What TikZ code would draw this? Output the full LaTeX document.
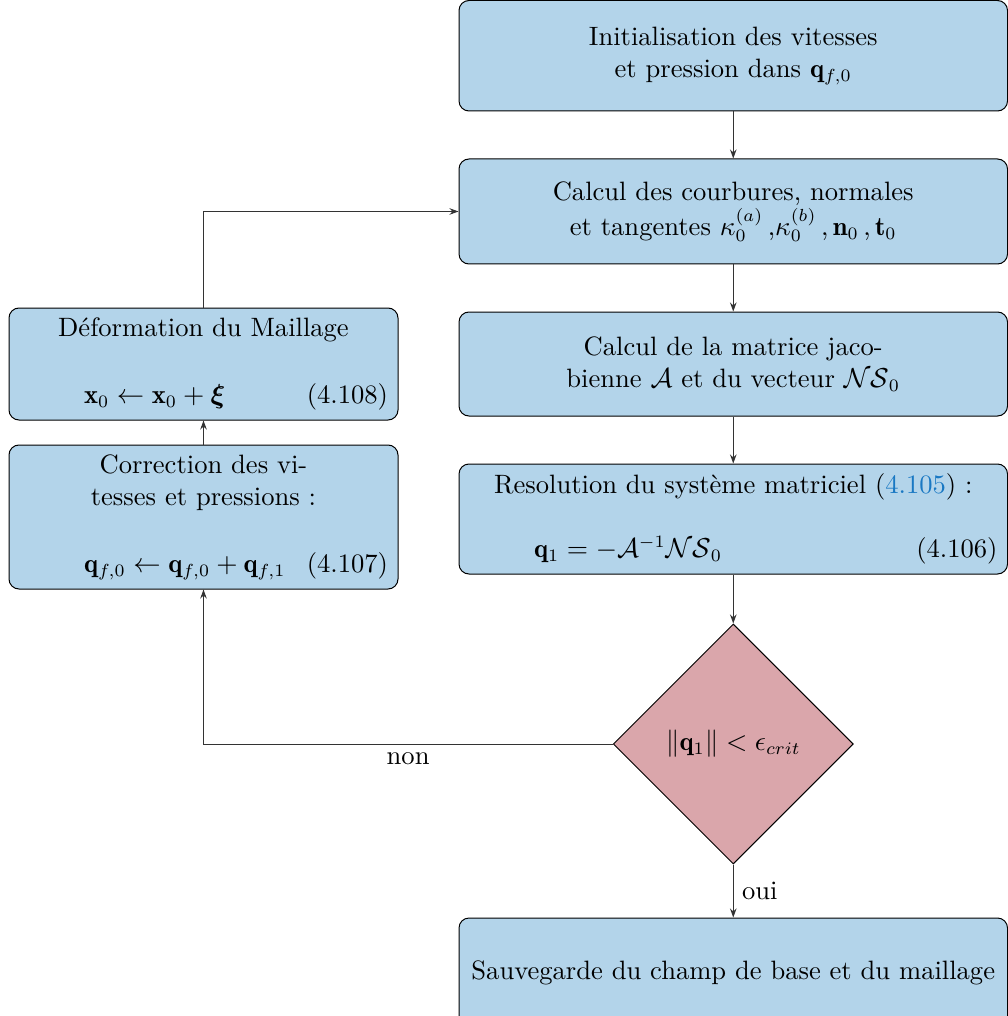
\documentclass[tikz,border=0pt]{standalone}
\usepackage{amsmath,amssymb}
\usepackage{fontspec}
\usepackage{tikz}
\usetikzlibrary{positioning,arrows.meta,shapes.geometric,calc}
\definecolor{boxblue}{RGB}{179,212,234}
\definecolor{testred}{RGB}{218,166,171}
\definecolor{refblue}{RGB}{25,120,195}
\newcommand{\eqline}[2]{\makebox[\hsize][l]{\hspace{26pt}$#1$\hfill(#2)}}
\tikzset{
  stepbox/.style={rectangle,rounded corners=4pt,draw=black,fill=boxblue,align=center,inner xsep=4pt,inner ysep=3pt},
  widebox/.style={stepbox,text width=211.4pt},
  sidebox/.style={stepbox,text width=147.6pt},
  testbox/.style={diamond,draw=black,fill=testred,aspect=1,minimum width=96pt,minimum height=96pt,inner sep=0pt},
  edge/.style={-{Stealth[length=3.6pt,width=2.6pt]},draw=black!80}
}
\begin{document}
\begin{tikzpicture}[node distance=18.8pt,font=\fontsize{10.63pt}{12.8pt}\selectfont]
  \useasboundingbox (0,0) rectangle (403.2pt,-406.4pt);
  % right column
  \node[widebox,minimum height=44.2pt] (init) at (293.3pt,-22.3pt) {Initialisation des vitesses\\et pression dans $\mathbf{q}_{f,0}$};
  \node[widebox,minimum height=42pt,below=of init] (courb) {Calcul des courbures, normales\\et tangentes $\kappa_0^{(a)}$\,,$\kappa_0^{(b)}$\,,\,$\mathbf{n}_0$\,,\,$\mathbf{t}_0$};
  \node[widebox,minimum height=41.6pt,below=of courb] (jac) {Calcul de la matrice jaco-\\bienne $\mathcal{A}$ et du vecteur $\mathcal{NS}_0$};
  \node[widebox,minimum height=44pt,below=of jac] (resol) {Resolution du système matriciel ({\color{refblue}4.105}) :\\[12.6pt]\eqline{\mathbf{q}_1=-\mathcal{A}^{-1}\mathcal{NS}_0}{4.106}};
  \node[testbox,below=19.6pt of resol] (test) {$\|\mathbf{q}_1\|<\epsilon_{crit}$};
  \node[widebox,minimum height=44pt,below=21.2pt of test] (save) {Sauvegarde du champ de base et du maillage};
  % left column
  \node[sidebox,minimum height=44.8pt,left=24pt of jac] (deform) {Déformation du Maillage\\[14pt]\eqline{\mathbf{x}_0\leftarrow\mathbf{x}_0+\boldsymbol{\xi}}{4.108}};
  \node[sidebox,minimum height=57.6pt,below=9.6pt of deform] (corr) {Correction des vi-\\tesses et pressions :\\[14pt]\eqline{\mathbf{q}_{f,0}\leftarrow\mathbf{q}_{f,0}+\mathbf{q}_{f,1}}{4.107}};
  % connectors
  \draw[edge] (init) -- (courb);
  \draw[edge] (courb) -- (jac);
  \draw[edge] (jac) -- (resol);
  \draw[edge] (resol) -- (test);
  \draw[edge] (test) -- node[right] {oui} (save);
  \draw[edge] (test.west) -| node[below,pos=0.25] {non} (corr.south);
  \draw[edge] (corr) -- (deform);
  \draw[edge] (deform.north) |- (courb.west);
\end{tikzpicture}
\end{document}
